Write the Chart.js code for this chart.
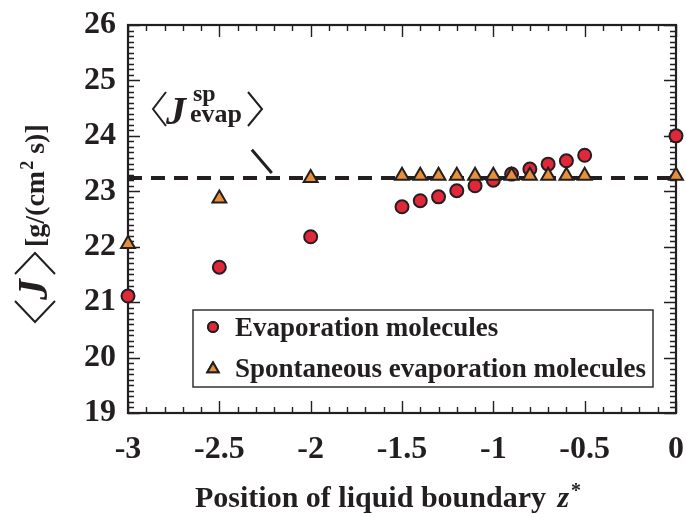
<!DOCTYPE html>
<html>
<head>
<meta charset="utf-8">
<script src="https://cdn.jsdelivr.net/npm/chart.js@4.4.1/dist/chart.umd.min.js"></script>
<style>
  html, body { margin: 0; padding: 0; background: #fff; }
  #wrap { width: 686px; height: 517px; }
</style>
</head>
<body>
<div id="wrap"><canvas id="fluxChart" width="686" height="517"></canvas></div>
<script>
// liquid boundary position z* and mean mass flux <J> [g/(cm2 s)]
const zEvap = [-3, -2.5, -2, -1.5, -1.4, -1.3, -1.2, -1.1, -1.0, -0.9, -0.8, -0.7, -0.6, -0.5, 0];
const jEvap = [21.11, 21.63, 22.18, 22.72, 22.83, 22.90, 23.01, 23.10, 23.20, 23.31, 23.40, 23.49, 23.55, 23.65, 24.00];
const zSpont = [-3, -2.5, -2, -1.5, -1.4, -1.3, -1.2, -1.1, -1.0, -0.9, -0.8, -0.7, -0.6, -0.5, 0];
const jSpont = [22.05, 22.87, 23.24, 23.28, 23.28, 23.28, 23.28, 23.28, 23.28, 23.28, 23.28, 23.28, 23.28, 23.28, 23.28];
const jEvapSp = 23.24;   // reference level <J_evap^sp>

const xTickLabels = ['-3', '-2.5', '-2', '-1.5', '-1', '-0.5', '0'];
const yTickLabels = ['19', '20', '21', '22', '23', '24', '25', '26'];
const seriesNames = ['Evaporation molecules', 'Spontaneous evaporation molecules'];

const X_MIN = -3, X_MAX = 0, Y_MIN = 19, Y_MAX = 26;
const INK = '#231f20';
const RED = '#e1273a';
const ORANGE = '#e88f3c';
const SERIF = '"Liberation Serif", "Times New Roman", serif';

// pointer from the <J_evap^sp> label down to the dashed line (data units)
const pointerFrom = { x: -2.322, y: 23.75 };
const pointerTo = { x: -2.213, y: 23.33 };

function toXY(xs, ys) { return xs.map((x, i) => ({ x: x, y: ys[i] })); }

// bracket < or > drawn as two strokes
function angle(ctx, xTip, xArm, yTop, yBot) {
  ctx.beginPath();
  ctx.moveTo(xArm, yTop);
  ctx.lineTo(xTip, (yTop + yBot) / 2);
  ctx.lineTo(xArm, yBot);
  ctx.stroke();
}

const framePlugin = {
  id: 'frame',
  beforeDatasetsDraw(chart) {
    const { ctx, chartArea: a, scales } = chart;
    const xs = scales.x, ys = scales.y;
    ctx.save();
    ctx.strokeStyle = INK;
    ctx.lineWidth = 1.4;
    // inward ticks on all four sides
    for (let i = 0; i <= 30; i++) {
      const v = X_MIN + i * 0.1;
      const px = Math.round(xs.getPixelForValue(v)) + 0.5;
      const len = i % 5 === 0 ? 12 : 6;
      ctx.beginPath();
      ctx.moveTo(px, a.bottom); ctx.lineTo(px, a.bottom - len);
      ctx.moveTo(px, a.top); ctx.lineTo(px, a.top + len);
      ctx.stroke();
    }
    for (let i = 0; i <= 70; i++) {
      const v = Y_MIN + i * 0.1;
      const py = Math.round(ys.getPixelForValue(v)) + 0.5;
      const len = i % 10 === 0 ? 12 : 6;
      ctx.beginPath();
      ctx.moveTo(a.left, py); ctx.lineTo(a.left + len, py);
      ctx.moveTo(a.right, py); ctx.lineTo(a.right - len, py);
      ctx.stroke();
    }
    ctx.lineWidth = 2.2;
    ctx.strokeRect(a.left, a.top, a.right - a.left, a.bottom - a.top);
    ctx.restore();
  },
  afterDraw(chart) {
    const { ctx, scales } = chart;
    const xs = scales.x, ys = scales.y;
    ctx.save();
    ctx.fillStyle = INK;
    ctx.strokeStyle = INK;
    ctx.textBaseline = 'alphabetic';

    // x axis title
    ctx.font = 'bold 30px ' + SERIF;
    ctx.textAlign = 'left';
    const xt = 'Position of liquid boundary ';
    const wt = ctx.measureText(xt).width;
    const x0 = 195;
    ctx.fillText(xt, x0, 507);
    ctx.font = 'italic bold 30px ' + SERIF;
    ctx.fillText('z', x0 + wt + 4, 507);
    const wz = ctx.measureText('z').width;
    ctx.font = 'bold 20px ' + SERIF;
    ctx.fillText('*', x0 + wt + 6 + wz, 497);

    // y axis title, rotated: local +x runs up the page, baseline at page x = 47
    ctx.save();
    ctx.translate(47, 322);
    ctx.rotate(-Math.PI / 2);
    ctx.lineWidth = 2;
    angle(ctx, 0, 21, -32, 8);
    ctx.font = 'italic bold 42px ' + SERIF;
    ctx.fillText('J', 22, 0);
    angle(ctx, 69, 48, -32, 8);
    ctx.font = 'bold 28px ' + SERIF;
    let u = 75;
    ctx.fillText('[g/(cm', u, -3);
    u += ctx.measureText('[g/(cm').width;
    ctx.font = 'bold 18px ' + SERIF;
    ctx.fillText('2', u + 1, -14);
    u += ctx.measureText('2').width + 1;
    ctx.font = 'bold 28px ' + SERIF;
    ctx.fillText(' s)]', u, -3);
    ctx.restore();

    // <J_evap^sp> label with pointer
    ctx.lineWidth = 2;
    angle(ctx, 153, 166, 92, 126);
    ctx.font = 'italic bold 40px ' + SERIF;
    ctx.fillText('J', 166, 124);
    ctx.font = 'bold 24px ' + SERIF;
    ctx.fillText('sp', 193, 101);
    ctx.font = 'bold 26px ' + SERIF;
    ctx.fillText('evap', 190, 122);
    angle(ctx, 262, 248, 92, 126);
    ctx.lineWidth = 3;
    ctx.beginPath();
    ctx.moveTo(xs.getPixelForValue(pointerFrom.x), ys.getPixelForValue(pointerFrom.y));
    ctx.lineTo(xs.getPixelForValue(pointerTo.x), ys.getPixelForValue(pointerTo.y));
    ctx.stroke();

    // legend box
    const lx = 193, ly = 310, lw = 460, lh = 77;
    ctx.fillStyle = '#fff';
    ctx.fillRect(lx, ly, lw, lh);
    ctx.lineWidth = 1.5;
    ctx.strokeStyle = '#333';
    ctx.strokeRect(lx, ly, lw, lh);
    const dsets = chart.data.datasets;
    const rows = [327, 368];
    [0, 1].forEach(k => {
      const d = dsets[k];
      ctx.fillStyle = d.pointBackgroundColor;
      ctx.strokeStyle = INK;
      ctx.lineWidth = 2;
      Chart.helpers.drawPoint(ctx, { pointStyle: d.pointStyle, radius: k === 0 ? 5 : 6.5, borderWidth: 2, rotation: 0 }, 213, rows[k] + (k === 1 ? 1 : 0));
      ctx.fill();
      ctx.stroke();
      ctx.fillStyle = INK;
      ctx.font = 'bold 27px ' + SERIF;
      ctx.fillText(seriesNames[k], 235, rows[k] + 9);
    });
    ctx.restore();
  }
};

const ctx = document.getElementById('fluxChart').getContext('2d');
new Chart(ctx, {
  type: 'scatter',
  data: {
    datasets: [
      {
        label: seriesNames[0],
        data: toXY(zEvap, jEvap),
        pointStyle: 'circle',
        pointRadius: 6.5,
        pointBorderWidth: 2,
        pointBackgroundColor: RED,
        pointBorderColor: INK,
        clip: false,
        order: 2
      },
      {
        label: seriesNames[1],
        data: toXY(zSpont, jSpont),
        pointStyle: 'triangle',
        pointRadius: 8,
        pointBorderWidth: 2,
        pointBackgroundColor: ORANGE,
        pointBorderColor: INK,
        clip: false,
        order: 1
      },
      {
        type: 'line',
        label: 'Jsp',
        data: [{ x: X_MIN, y: jEvapSp }, { x: X_MAX, y: jEvapSp }],
        borderColor: INK,
        borderWidth: 4,
        borderDash: [14, 9],
        pointRadius: 0,
        showLine: true,
        order: 3
      }
    ]
  },
  options: {
    responsive: false,
    animation: false,
    layout: { padding: { top: 25, right: 9, left: 0, bottom: 0 } },
    plugins: {
      legend: { display: false },
      tooltip: { enabled: false },
      title: { display: false }
    },
    scales: {
      x: {
        type: 'linear',
        min: X_MIN, max: X_MAX,
        grid: { display: false, drawTicks: false },
        border: { display: false },
        afterFit: s => { s.height = 104; s.paddingLeft = 0; s.paddingRight = 0; },
        ticks: {
          stepSize: 0.5,
          padding: 18,
          color: INK,
          font: { family: SERIF, size: 32, weight: 'bold' },
          callback: v => xTickLabels[Math.round((v - X_MIN) / 0.5)]
        }
      },
      y: {
        min: Y_MIN, max: Y_MAX,
        grid: { display: false, drawTicks: false },
        border: { display: false },
        afterFit: s => { s.width = 128; s.paddingTop = 0; s.paddingBottom = 0; },
        ticks: {
          stepSize: 1,
          padding: 12,
          color: INK,
          font: { family: SERIF, size: 32, weight: 'bold' },
          callback: v => yTickLabels[Math.round(v - Y_MIN)]
        }
      }
    }
  },
  plugins: [framePlugin]
});
</script>
</body>
</html>
